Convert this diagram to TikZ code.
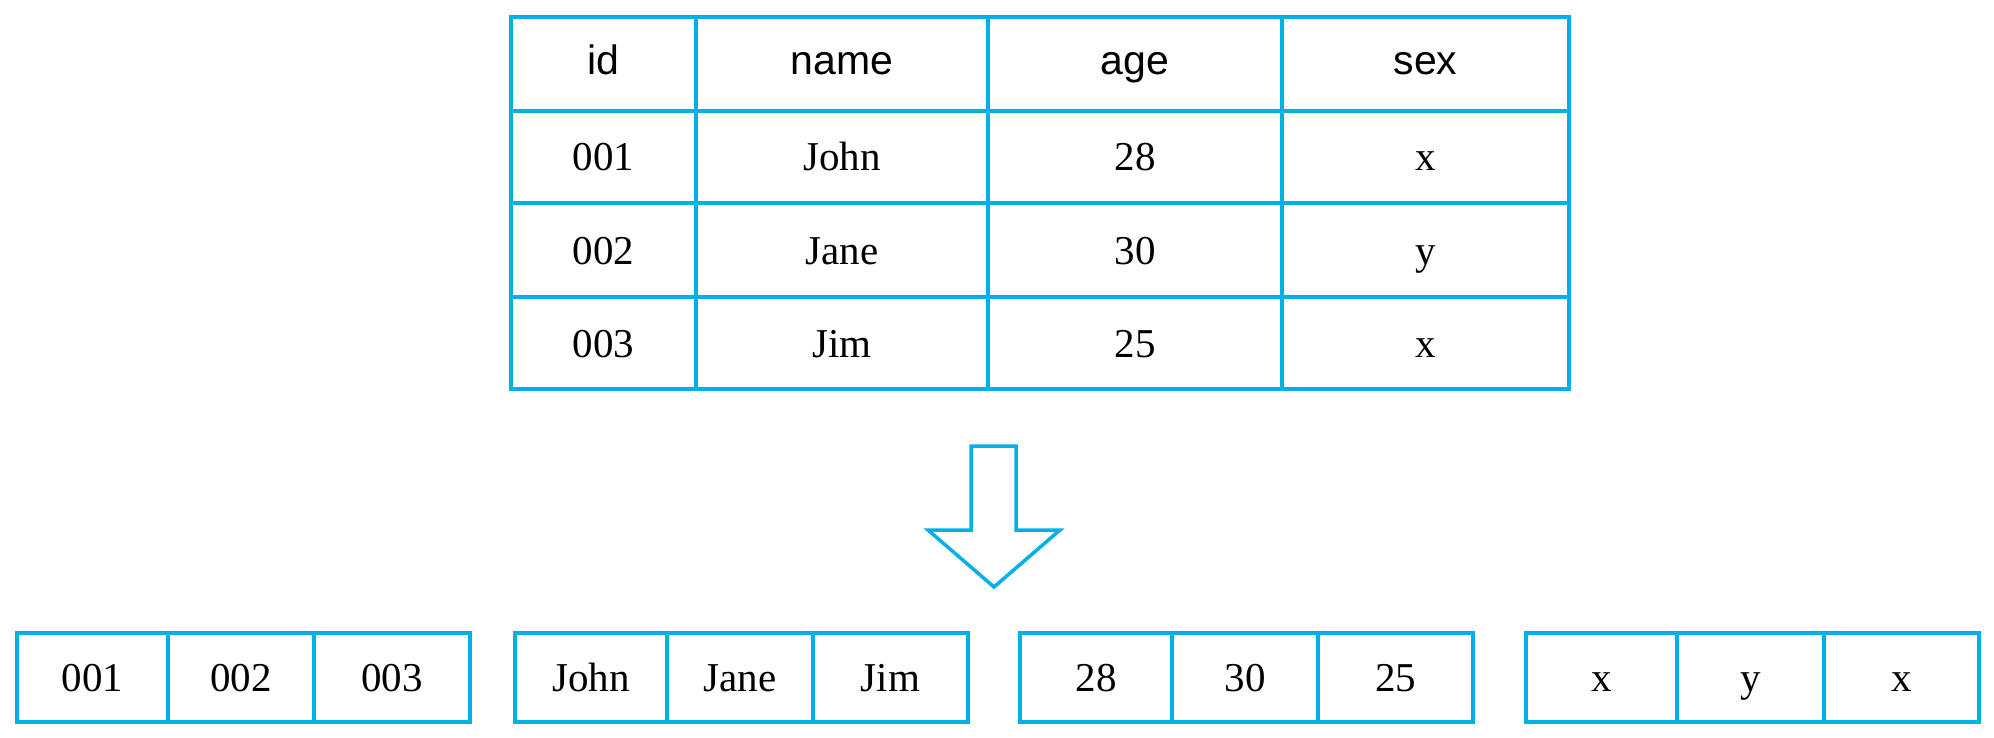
\documentclass[tikz,border=0pt]{standalone}
\usepackage{fontspec}
\setmainfont{Liberation Serif}
\newfontfamily\hdrfont{Liberation Sans}
\definecolor{lineblue}{RGB}{0,176,230}
\begin{document}
\begin{tikzpicture}[x=1pt,y=-1pt,
  cell/.style={draw=lineblue, line width=4pt, inner sep=0pt, anchor=center,
    text height=28pt, text depth=0pt, font=\fontsize{41}{49}\selectfont},
  hcell/.style={cell, text height=21pt, font=\hdrfont\fontsize{41}{49}\selectfont},
  arrowshape/.style={draw=lineblue, line width=3.5pt, line join=miter}]
\useasboundingbox (0,0) rectangle (1994,738);
% table header
\foreach \xa/\xb/\t/\n in {511/696/id/h1, 696/988/name/h2, 988/1282/age/h3, 1282/1569/sex/h4}
  \node[hcell, minimum width={\xb-\xa}, minimum height=94] (\n) at ({(\xa+\xb)/2},64) {\t};
% table body
\foreach \ya/\yb/\r/\A/\B/\C/\D in {111/203/1/001/John/28/x, 203/297/2/002/Jane/30/y, 297/389/3/003/Jim/25/x}{
  \node[cell, minimum width=185, minimum height={\yb-\ya}] (r\r c1) at (603.5,{(\ya+\yb)/2}) {\A};
  \node[cell, minimum width=292, minimum height={\yb-\ya}] (r\r c2) at (842,{(\ya+\yb)/2}) {\B};
  \node[cell, minimum width=294, minimum height={\yb-\ya}] (r\r c3) at (1135,{(\ya+\yb)/2}) {\C};
  \node[cell, minimum width=287, minimum height={\yb-\ya}] (r\r c4) at (1425.5,{(\ya+\yb)/2}) {\D};
}
% arrow
\draw[arrowshape] (971,446) -- (1016,446) -- (1016,530) -- (1060,530) -- (994,587)
  -- (928,530) -- (971,530) -- cycle;
% bottom column groups
\foreach \g/\a/\b/\c/\d/\P/\Q/\R in {
    1/17/168/314/470/001/002/003,
    2/515/667/813/968/John/Jane/Jim,
    3/1020/1172/1318/1473/28/30/25,
    4/1526/1677/1824/1979/x/y/x}{
  \node[cell, minimum width={\b-\a}, minimum height=89] (g\g a) at ({(\a+\b)/2},677.5) {\P};
  \node[cell, minimum width={\c-\b}, minimum height=89] (g\g b) at ({(\b+\c)/2},677.5) {\Q};
  \node[cell, minimum width={\d-\c}, minimum height=89] (g\g c) at ({(\c+\d)/2},677.5) {\R};
}
\end{tikzpicture}
\end{document}
